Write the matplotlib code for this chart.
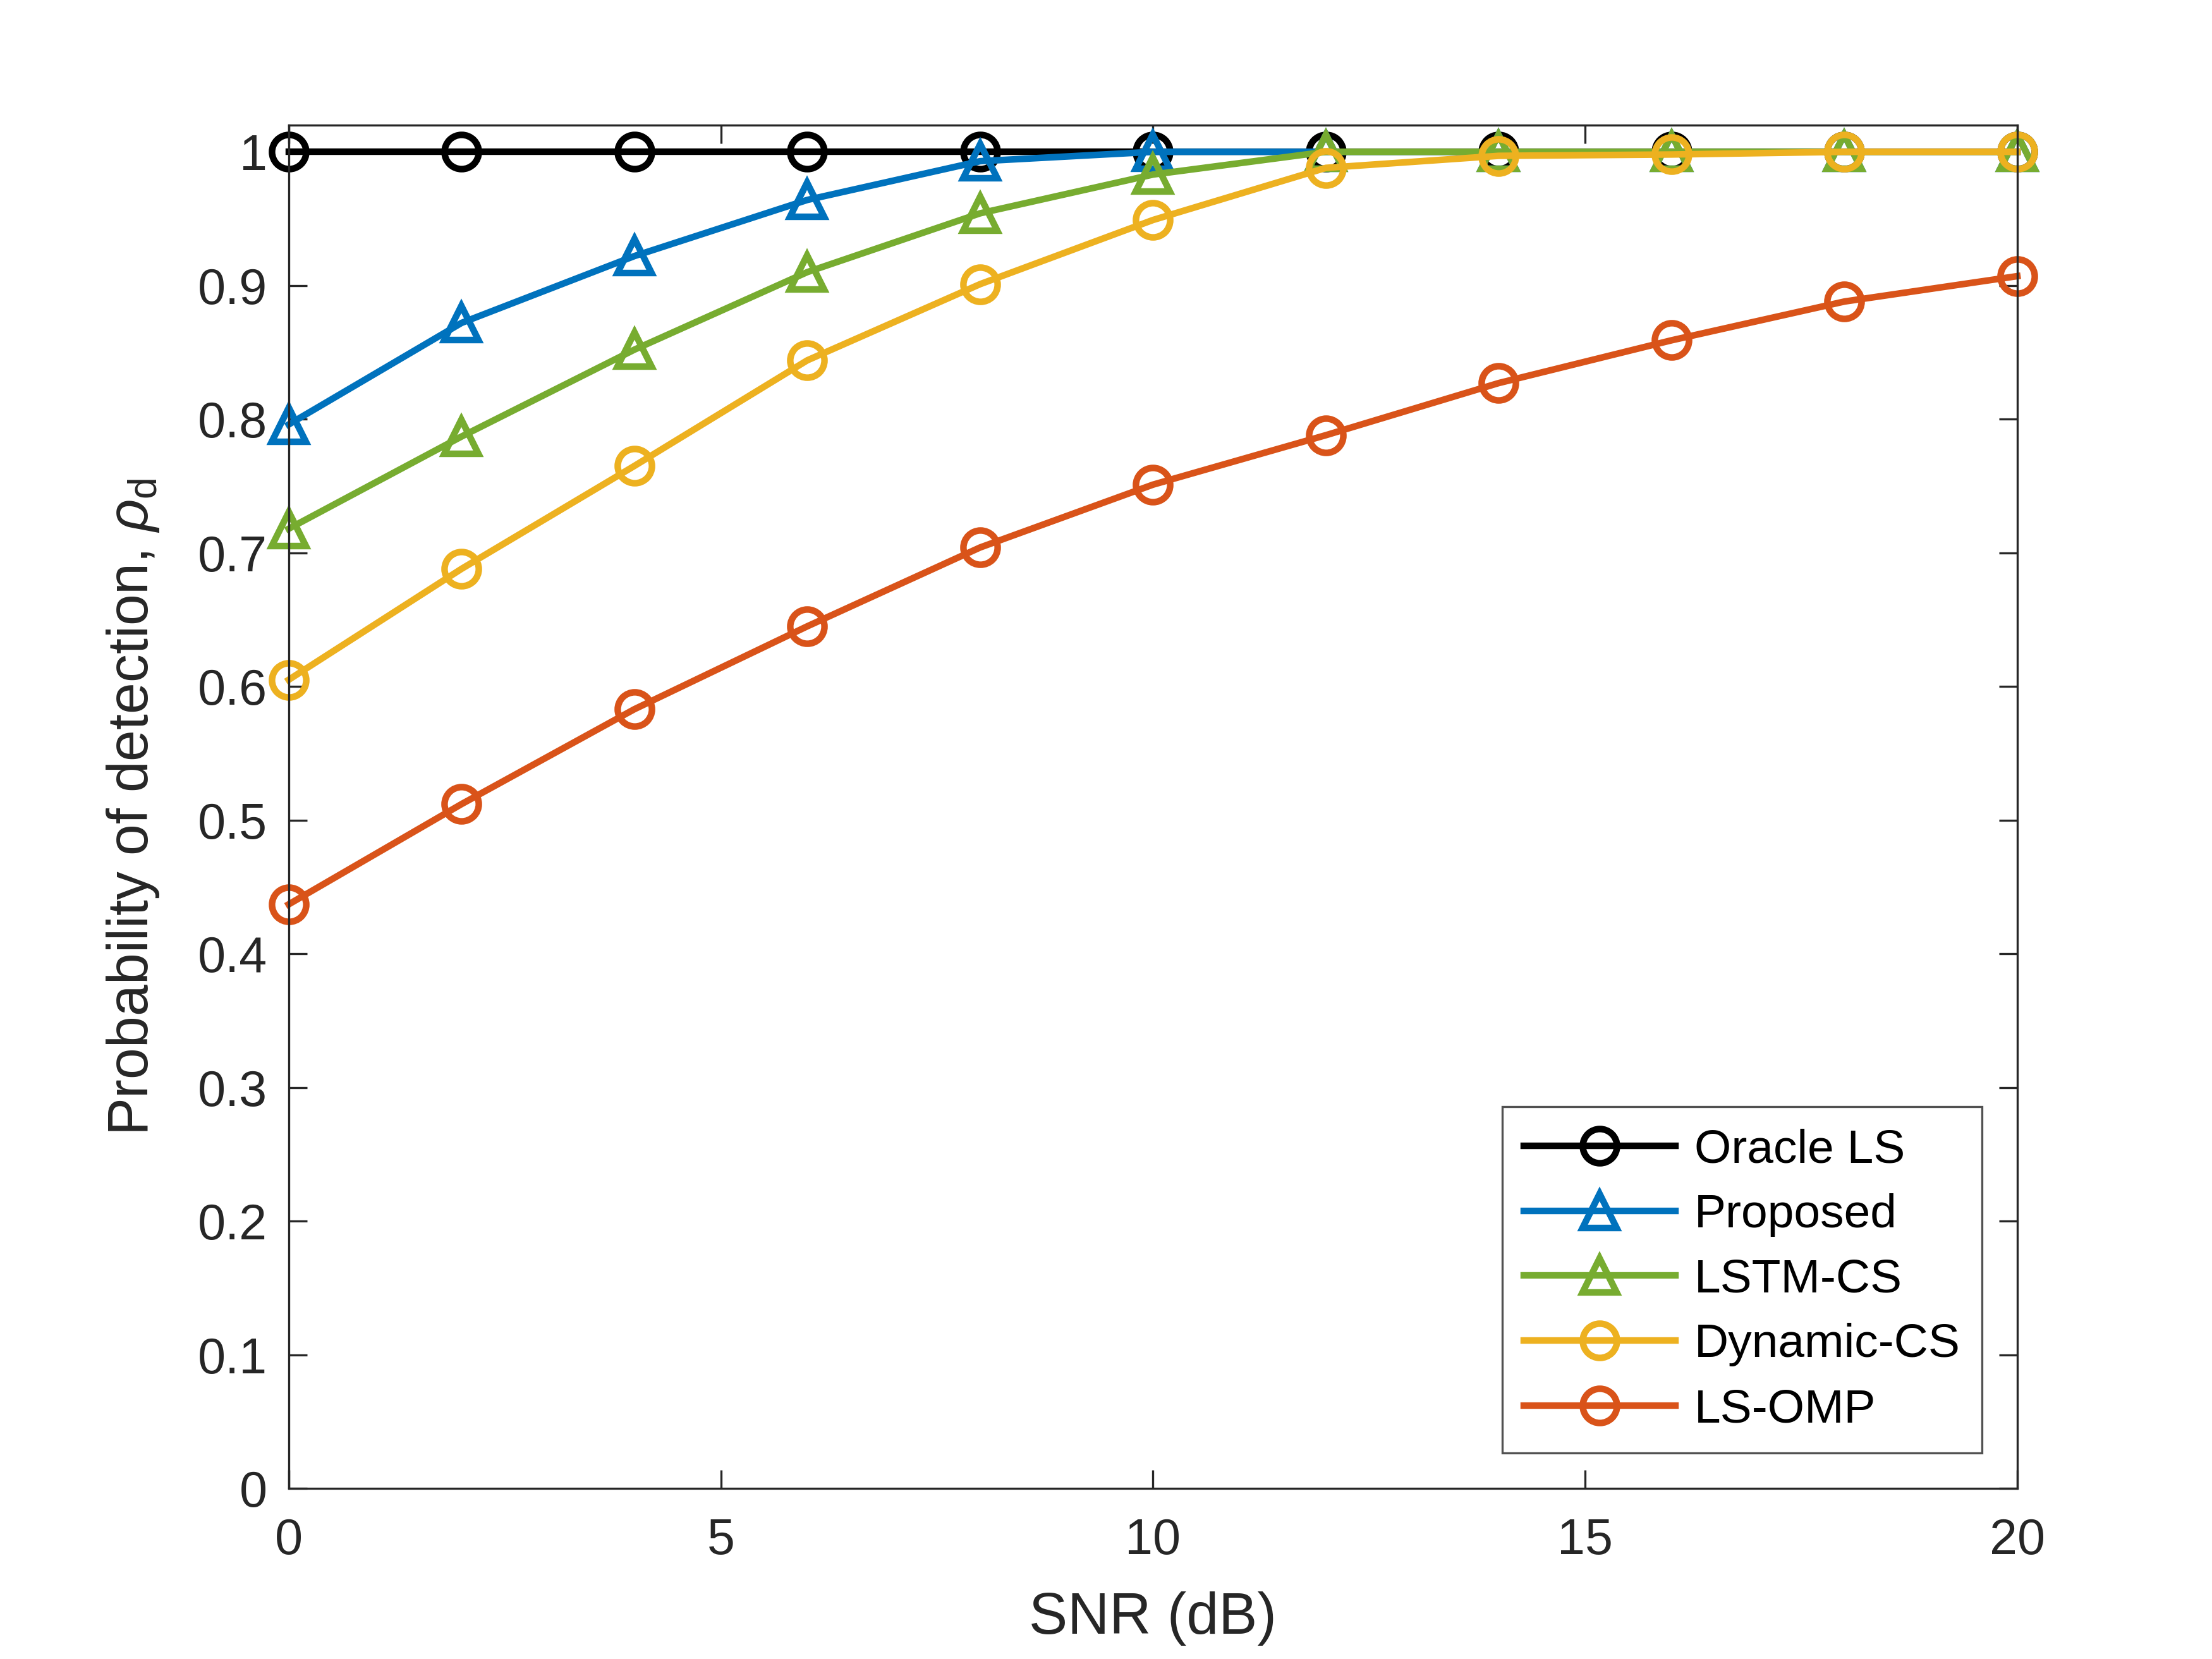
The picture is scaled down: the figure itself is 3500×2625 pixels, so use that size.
import matplotlib
matplotlib.use("Agg")
import matplotlib.pyplot as plt

plt.rcParams['font.family'] = ['Liberation Sans', 'DejaVu Sans']
plt.rcParams['mathtext.fontset'] = 'custom'
plt.rcParams['mathtext.rm'] = 'Liberation Sans'
plt.rcParams['mathtext.it'] = 'Liberation Sans:italic'

# SNR points (dB)
snr = [0, 2, 4, 6, 8, 10, 12, 14, 16, 18, 20]

# probability of detection per method
oracle_ls = [1.0, 1.0, 1.0, 1.0, 1.0, 1.0, 1.0, 1.0, 1.0, 1.0, 1.0]
proposed = [0.796, 0.872, 0.922, 0.964, 0.993, 1.0, 1.0, 1.0, 1.0, 1.0, 1.0]
lstm_cs = [0.718, 0.787, 0.852, 0.910, 0.954, 0.983, 1.0, 1.0, 1.0, 1.0, 1.0]
dynamic_cs = [0.605, 0.688, 0.765, 0.844, 0.901, 0.949, 0.988, 0.997, 0.998, 1.0, 1.0]
ls_omp = [0.437, 0.512, 0.583, 0.645, 0.704, 0.751, 0.788, 0.827, 0.859, 0.888, 0.907]

labels = ["Oracle LS", "Proposed", "LSTM-CS", "Dynamic-CS", "LS-OMP"]
series = [oracle_ls, proposed, lstm_cs, dynamic_cs, ls_omp]
markers = ["o", "^", "^", "o", "o"]
colors = ["#000000", "#0072BD", "#77AC30", "#EDB120", "#D95319"]

fig = plt.figure(figsize=(3500 / 300, 2625 / 300), dpi=300)
ax = fig.add_axes([0.1305, 0.1028, 0.7815, 0.8218])

for y, lab, mk, c in zip(series, labels, markers, colors):
    ax.plot(snr, y, marker=mk, color=c, label=lab, linewidth=2.5,
            markersize=13, markerfacecolor='none', markeredgewidth=2.5,
            clip_on=False)

ax.set_xlim(0, 20)
ax.set_ylim(0, 1.02)
ax.set_xticks([0, 5, 10, 15, 20])
ax.set_yticks([i / 10 for i in range(11)])
ax.set_yticklabels(["0"] + ["0.%d" % i for i in range(1, 10)] + ["1"])

axis_col = (0.15, 0.15, 0.15)
for s in ax.spines.values():
    s.set_linewidth(0.8)
    s.set_color(axis_col)
ax.tick_params(direction='in', length=7, width=0.8, colors=axis_col,
               top=True, right=True, labelsize=19)
ax.tick_params(axis='x', pad=11)
ax.tick_params(axis='y', pad=8)

ax.set_xlabel("SNR (dB)", fontsize=22, color=axis_col, labelpad=10)
ax.set_ylabel(r"Probability of detection, $\it{\rho}_\mathrm{d}$", fontsize=21.5,
              color=axis_col, labelpad=14)

leg = ax.legend(loc='lower right', fontsize=18, frameon=True, fancybox=False,
                edgecolor=axis_col, handlelength=3.2, borderpad=0.45,
                labelspacing=0.45, borderaxespad=0.75, handletextpad=0.4)
leg.get_frame().set_linewidth(0.8)

fig.savefig("out.png", dpi=300, facecolor='white')
